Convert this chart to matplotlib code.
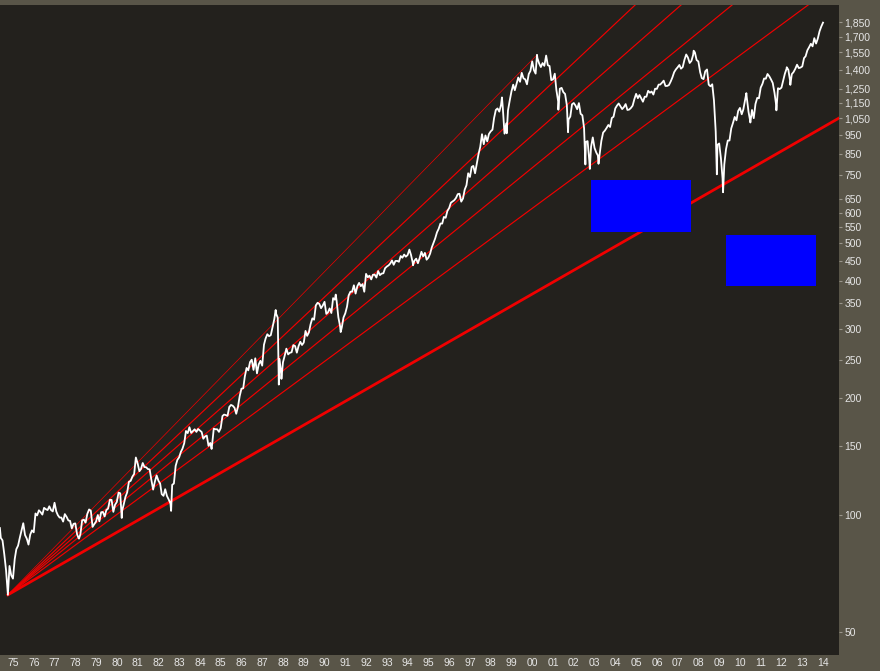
import numpy as np
import pandas as pd
import matplotlib
matplotlib.use('Agg')
import matplotlib.pyplot as plt
import matplotlib.dates as mdates
from matplotlib.ticker import FixedLocator, FuncFormatter

# S&P 500, cierres mensuales (may-1974 .. dic-2013)
monthly_close = [
    87.28, 86.00, 79.31, 72.15, 63.54, 73.90, 69.97, 68.56,  # 1974
    76.98, 81.59, 83.36, 87.30, 91.15, 95.19, 88.75, 86.88, 83.87, 89.04, 91.24, 90.19,  # 1975
    100.86, 99.71, 102.77, 101.64, 100.18, 104.28, 103.44, 102.91, 105.24, 102.90, 102.10, 107.46,
    102.03, 99.82, 98.42, 98.44, 96.12, 100.48, 98.85, 96.77, 96.53, 92.34, 94.83, 95.10,
    89.25, 87.04, 89.21, 96.83, 97.24, 95.53, 100.68, 103.29, 102.54, 93.15, 94.70, 96.11,
    99.93, 96.28, 101.59, 101.76, 99.08, 102.91, 103.81, 109.32, 109.32, 101.82, 106.16, 107.94,
    114.16, 113.66, 102.09, 106.29, 111.24, 114.24, 121.67, 122.38, 125.46, 127.47, 140.52, 135.76,  # 1980
    129.55, 131.27, 136.00, 132.81, 132.59, 131.21, 130.92, 122.79, 116.18, 121.89, 126.35, 122.55,
    120.40, 113.11, 111.96, 116.44, 111.88, 109.61, 107.09, 119.51, 120.42, 133.71, 138.54, 140.64,
    145.30, 148.06, 152.96, 164.42, 162.39, 168.11, 162.56, 164.40, 166.07, 163.55, 166.40, 164.93,
    163.41, 157.06, 159.18, 160.05, 150.55, 153.18, 150.66, 166.68, 166.10, 166.09, 163.58, 167.24,
    179.63, 181.18, 180.66, 179.83, 189.55, 191.85, 190.92, 188.63, 182.08, 189.82, 202.17, 211.28,  # 1985
    211.78, 226.92, 238.90, 235.52, 247.35, 250.84, 236.12, 252.93, 231.32, 243.98, 249.22, 242.17,
    274.08, 284.20, 291.70, 288.36, 290.10, 304.00, 318.66, 329.80, 321.83, 251.79, 230.30, 247.08,
    257.07, 267.82, 258.89, 261.33, 262.16, 273.50, 272.02, 261.52, 271.91, 278.97, 273.70, 277.72,
    297.47, 288.86, 294.87, 309.64, 320.52, 317.98, 346.08, 351.45, 349.15, 340.36, 345.99, 353.40,
    329.08, 331.89, 339.94, 330.80, 361.23, 358.02, 356.15, 322.56, 306.05, 304.00, 322.22, 330.22,  # 1990
    343.93, 367.07, 375.22, 375.34, 389.83, 371.16, 387.81, 395.43, 387.86, 392.46, 375.22, 417.09,
    408.79, 412.70, 403.69, 414.95, 415.35, 408.14, 424.21, 414.03, 417.80, 418.68, 431.35, 435.71,
    438.78, 443.38, 451.67, 440.19, 450.19, 450.53, 448.13, 463.56, 458.93, 467.83, 461.79, 466.45,
    481.61, 467.14, 445.77, 450.91, 456.50, 444.27, 458.26, 475.49, 462.69, 472.35, 453.69, 459.27,
    470.42, 487.39, 500.71, 514.71, 533.40, 544.75, 562.06, 561.88, 584.41, 581.50, 605.37, 615.93,  # 1995
    636.02, 640.43, 645.50, 654.17, 669.12, 670.63, 639.95, 651.99, 687.31, 705.27, 757.02, 740.74,
    786.16, 790.82, 757.12, 801.34, 848.28, 885.14, 954.31, 899.47, 947.28, 914.62, 955.40, 970.43,
    980.28, 1049.34, 1101.75, 1111.75, 1090.82, 1133.84, 1120.67, 957.28, 1017.01, 1098.67, 1163.63, 1229.23,
    1279.64, 1238.33, 1286.37, 1335.18, 1301.84, 1372.71, 1328.72, 1320.41, 1282.71, 1362.93, 1388.91, 1469.25,
    1394.46, 1366.42, 1498.58, 1452.43, 1420.60, 1454.60, 1430.83, 1517.68, 1436.51, 1429.40, 1314.95, 1320.28,  # 2000
    1366.01, 1239.94, 1160.33, 1249.46, 1255.82, 1224.38, 1211.23, 1133.58, 1040.94, 1059.78, 1139.45, 1148.08,
    1130.20, 1106.73, 1147.39, 1076.92, 1067.14, 989.82, 911.62, 916.07, 815.28, 885.76, 936.31, 879.82,
    855.70, 841.15, 848.18, 916.92, 963.59, 974.50, 990.31, 1008.01, 995.97, 1050.71, 1058.20, 1111.92,
    1131.13, 1144.94, 1126.21, 1107.30, 1120.68, 1140.84, 1101.72, 1104.24, 1114.58, 1130.20, 1173.82, 1211.92,
    1181.27, 1203.60, 1180.59, 1156.85, 1191.50, 1191.33, 1234.18, 1220.33, 1228.81, 1207.01, 1249.48, 1248.29,  # 2005
    1280.08, 1280.66, 1294.83, 1310.61, 1270.09, 1270.20, 1276.66, 1303.82, 1335.85, 1377.94, 1400.63, 1418.30,
    1438.24, 1406.82, 1420.86, 1482.37, 1530.62, 1503.35, 1455.27, 1473.99, 1526.75, 1549.38, 1481.14, 1468.36,
    1378.55, 1330.63, 1322.70, 1385.59, 1400.38, 1280.00, 1267.38, 1282.83, 1166.36, 968.75, 896.24, 903.25,
    825.88, 735.09, 797.87, 872.81, 919.14, 919.32, 987.48, 1020.62, 1057.08, 1036.19, 1095.63, 1115.10,
    1073.87, 1104.49, 1169.43, 1186.69, 1089.41, 1030.71, 1101.60, 1049.33, 1141.20, 1183.26, 1180.55, 1257.64,  # 2010
    1286.12, 1327.22, 1325.83, 1363.61, 1345.20, 1320.64, 1292.28, 1218.89, 1131.42, 1253.30, 1246.96, 1257.60,
    1312.41, 1365.68, 1408.47, 1397.91, 1310.33, 1362.16, 1379.32, 1406.58, 1440.67, 1412.16, 1416.18, 1426.19,
    1498.11, 1514.68, 1569.19, 1597.57, 1630.74, 1606.28, 1685.73, 1632.97, 1681.55, 1756.54, 1805.81, 1848.36,
]

# máximos / mínimos intermedios que se ven en el gráfico
swing_dates = ['1974-05-15', '1974-10-03', '1978-03-06', '1980-03-27', '1982-08-12',
               '1984-07-24', '1987-08-25', '1987-10-19', '1987-12-04', '1990-07-16',
               '1990-10-11', '1994-04-04', '1998-07-17', '1998-10-08', '2000-03-24',
               '2000-09-01', '2001-04-04', '2001-09-21', '2002-07-23', '2002-10-09',
               '2003-03-11', '2007-10-09', '2008-11-20', '2009-03-09', '2010-04-23',
               '2010-07-02', '2011-04-29', '2011-10-03', '2012-04-02', '2012-06-04']
swing_values = [92.5, 62.28, 86.90, 98.22, 102.42,
                147.82, 336.77, 216.46, 223.92, 368.95,
                295.46, 438.92, 1186.75, 959.44, 1527.46,
                1520.77, 1103.25, 965.80, 797.70, 776.76,
                800.73, 1565.15, 752.44, 676.53, 1217.28,
                1022.58, 1363.61, 1099.23, 1419.04, 1278.04]

# líneas del abanico: origen en el mínimo de 1974
fan_origin = ('1974-10-03', 62.28)
fan_end_dates = ['2000-03-24', '2004-12-14', '2007-03-01', '2009-08-15', '2013-04-13', '2014-10-08']
fan_end_values = [1527, 2052, 2052, 2052, 2052, 1050]
fan_widths = [0.5, 0.85, 0.85, 0.85, 0.85, 2.0]

# zonas azules
box_dates = [('2002-10-30', '2007-08-22'), ('2009-05-01', '2013-08-29')]
box_values = [(535, 728), (388, 525)]

y_ticks = [50, 100, 150, 200, 250, 300, 350, 400, 450, 500, 550, 600, 650,
           750, 850, 950, 1050, 1150, 1250, 1400, 1550, 1700, 1850]

dates = pd.date_range('1974-05-31', periods=len(monthly_close), freq='ME')
s = pd.Series(monthly_close, index=dates)
s = pd.concat([s, pd.Series(swing_values, index=pd.to_datetime(swing_dates))]).sort_index()

plt.rcParams['font.family'] = ['Liberation Sans', 'DejaVu Sans']

fig = plt.figure(figsize=(8.8, 6.71), dpi=100, facecolor='#595548')
ax = fig.add_axes([0, 16 / 671, 839 / 880, 650 / 671])
ax.set_facecolor('#23211d')

ax.plot(s.index, s.values, color='white', linewidth=1.3, zorder=3)

x0 = pd.Timestamp(fan_origin[0])
for d, v, w in zip(fan_end_dates, fan_end_values, fan_widths):
    ax.plot([x0, pd.Timestamp(d)], [fan_origin[1], v], color='#f00000', linewidth=w, zorder=2)

for (d0, d1), (v0, v1) in zip(box_dates, box_values):
    ax.fill_between([pd.Timestamp(d0), pd.Timestamp(d1)], v0, v1, color='#0000ff', linewidth=0, zorder=4)

ax.set_yscale('log')
ax.set_ylim(43.6, 2052)
ax.set_xlim(pd.Timestamp('1974-05-17'), pd.Timestamp('2014-10-08'))

ax.yaxis.tick_right()
ax.yaxis.set_major_locator(FixedLocator(y_ticks))
ax.yaxis.set_minor_locator(FixedLocator([]))
ax.yaxis.set_major_formatter(FuncFormatter(lambda v, p: f'{int(v):,}'))
ax.tick_params(axis='y', colors='#9a968c', labelcolor='#e6e6e6', labelsize=7.5, length=2.5, width=0.8, pad=1.5)

ax.xaxis.set_major_locator(mdates.YearLocator(1))
ax.xaxis.set_major_formatter(mdates.DateFormatter('%y'))
ax.tick_params(axis='x', colors='#9a968c', labelcolor='#e6e6e6', labelsize=7.5, length=0, pad=2)

for sp in ax.spines.values():
    sp.set_visible(False)

fig.savefig('out.png', dpi=100, facecolor=fig.get_facecolor())
